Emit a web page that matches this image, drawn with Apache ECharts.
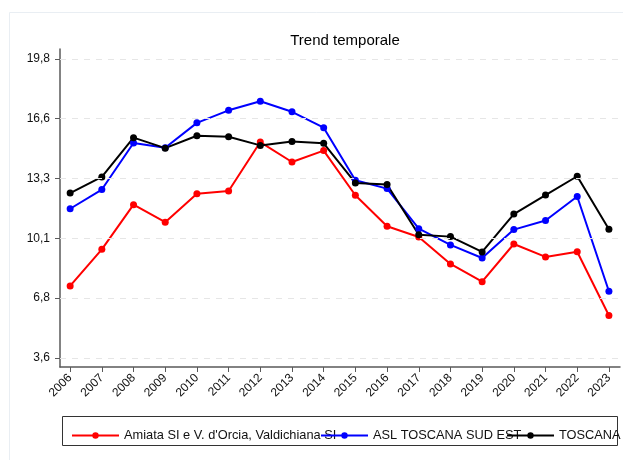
<!DOCTYPE html>
<html>
<head>
<meta charset="utf-8">
<title>Trend temporale</title>
<script src="https://cdn.jsdelivr.net/npm/echarts@6/dist/echarts.min.js"></script>
<style>
  html, body { margin: 0; padding: 0; background: #fff; }
  #chart { width: 623px; height: 460px; }
</style>
</head>
<body>
<div id="chart"></div>
<script>
// anni sull'asse x
const years = [2006, 2007, 2008, 2009, 2010, 2011, 2012, 2013, 2014,
  2015, 2016, 2017, 2018, 2019, 2020, 2021, 2022, 2023];

// valori
const amiata = [7.5, 9.48, 11.9, 10.95, 12.49, 12.64, 15.29, 14.21, 14.83,
  12.41, 10.73, 10.15, 8.69, 7.73, 9.77, 9.07, 9.35, 5.9];
const aslSudEst = [11.68, 12.72, 15.24, 14.98, 16.33, 17.01, 17.5, 16.93, 16.07,
  13.22, 12.77, 10.6, 9.72, 9.01, 10.55, 11.04, 12.34, 7.21];
const toscana = [12.53, 13.4, 15.53, 14.96, 15.63, 15.58, 15.11, 15.32, 15.22,
  13.08, 12.99, 10.27, 10.17, 9.34, 11.39, 12.42, 13.44, 10.57];

// tacche asse y
const yTicks = [3.6, 6.84, 10.08, 13.32, 16.56, 19.8];
const yTickLabels = ["3,6", "6,8", "10,1", "13,3", "16,6", "19,8"];

const seriesNames = ["Amiata SI e V. d'Orcia, Valdichiana SI", "ASL TOSCANA SUD EST", "TOSCANA"];
const seriesColors = ["#ff0000", "#0000ff", "#000000"];
const seriesData = [amiata, aslSudEst, toscana];

const chart = echarts.init(document.getElementById("chart"));

const legendLeft = [66, 315, 501];

// linee della griglia (tratteggiate) sulle tacche dell'asse y
const gridSeries = {
  type: "line",
  name: "griglia",
  data: [],
  z: 1,
  silent: true,
  markLine: {
    silent: true,
    symbol: "none",
    label: { show: false },
    animation: false,
    lineStyle: { color: "#e6e6e6", type: [6, 6], width: 1 },
    emphasis: { disabled: true },
    data: yTicks.map((v) => ({ yAxis: v }))
  }
};

const option = {
  animation: false,
  backgroundColor: "#fff",
  textStyle: { fontFamily: "Liberation Sans, Arial, sans-serif" },
  title: {
    text: "Trend temporale",
    left: 340,
    top: 28,
    textAlign: "center",
    textStyle: { fontSize: 15, fontWeight: "normal", color: "#000" }
  },
  graphic: [
    {
      type: "rect",
      silent: true,
      z: -10,
      shape: { x: 9.5, y: 12.5, width: 640, height: 460 },
      style: { fill: "none", stroke: "#e9eef3", lineWidth: 1 }
    },
    {
      type: "rect",
      silent: true,
      z: -1,
      shape: { x: 62.5, y: 416.5, width: 555, height: 29 },
      style: { fill: "#fff", stroke: "#333", lineWidth: 1 }
    }
  ],
  legend: seriesNames.map((name, i) => ({
    data: [name],
    left: legendLeft[i],
    top: 424,
    itemWidth: 47,
    itemHeight: 8,
    itemGap: 0,
    selectedMode: false,
    z: 10,
    textStyle: { fontSize: 12.8, color: "#111" }
  })),
  grid: {
    left: 60,
    right: 3,
    top: 49,
    bottom: 93,
    containLabel: false,
    outerBoundsMode: "none"
  },
  xAxis: {
    type: "value",
    min: 2005.68,
    max: 2023.35,
    axisLine: { show: true, onZero: false, lineStyle: { color: "#5a5a5a", width: 1.5 } },
    axisTick: { show: true, length: 5, customValues: years, lineStyle: { color: "#5a5a5a", width: 1 } },
    axisLabel: {
      customValues: years,
      rotate: 45,
      fontSize: 12,
      color: "#111",
      margin: 9,
      formatter: (v) => String(v)
    },
    splitLine: { show: false }
  },
  yAxis: {
    type: "value",
    min: 3.11,
    max: 20.33,
    axisLine: { show: true, lineStyle: { color: "#5a5a5a", width: 1.5 } },
    axisTick: { show: true, length: 5, customValues: yTicks, lineStyle: { color: "#5a5a5a", width: 1 } },
    axisLabel: {
      customValues: yTicks,
      fontSize: 12,
      color: "#111",
      margin: 10,
      formatter: (v) => {
        const i = yTicks.findIndex((t) => Math.abs(t - v) < 1e-6);
        return i >= 0 ? yTickLabels[i] : "";
      }
    },
    splitLine: { show: false }
  },
  series: [gridSeries].concat(seriesNames.map((name, i) => ({
    name: name,
    type: "line",
    z: 3,
    data: years.map((y, j) => [y, seriesData[i][j]]),
    color: seriesColors[i],
    symbol: "circle",
    symbolSize: 7,
    showSymbol: true,
    lineStyle: { width: 2, color: seriesColors[i] },
    itemStyle: { color: seriesColors[i] },
    emphasis: { disabled: true }
  })))
};

chart.setOption(option);
</script>
</body>
</html>
